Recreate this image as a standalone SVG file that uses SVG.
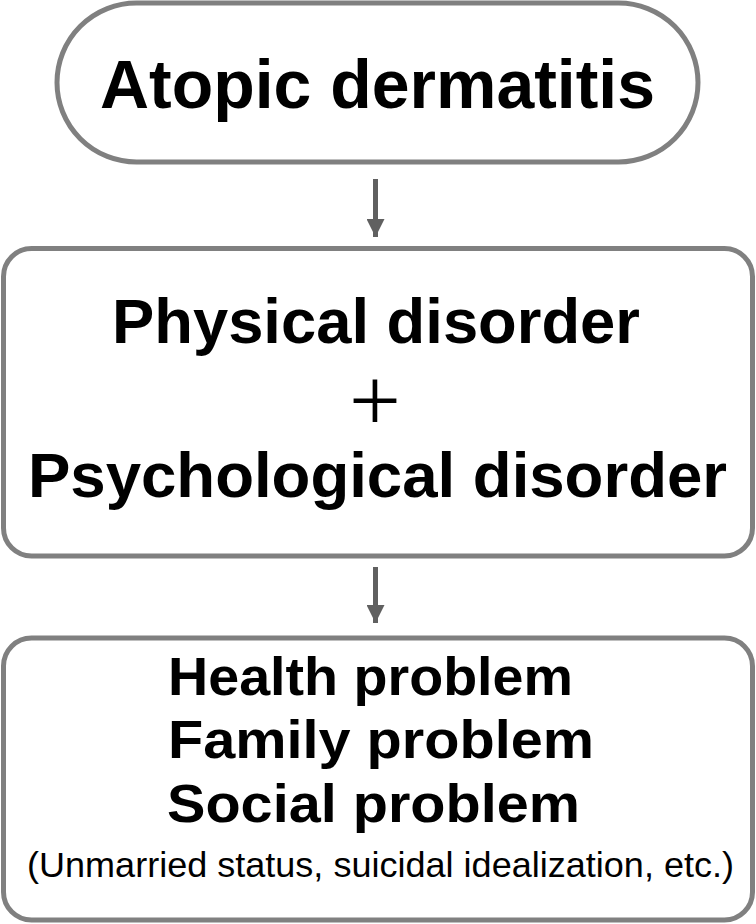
<svg xmlns="http://www.w3.org/2000/svg" width="756" height="924" viewBox="0 0 756 924">
<style>
.box{fill:#fff;stroke:#808080;stroke-width:5}
.conn{stroke:#606060;stroke-width:5;fill:none}
.b{font-family:"Liberation Sans",Arial,sans-serif;font-weight:bold;fill:#000}
.r{font-family:"Liberation Sans",Arial,sans-serif;font-weight:normal;fill:#000}
</style>
<defs>
<marker id="ah" viewBox="0 0 18 18" refX="18" refY="9" markerWidth="18" markerHeight="18" markerUnits="userSpaceOnUse" orient="auto">
<path d="M0,0 L18,9 L0,18 Z" fill="#606060"/>
</marker>
</defs>
<rect width="756" height="924" fill="#fff"/>
<g id="connectors">
<line class="conn" x1="375.5" y1="179" x2="375.5" y2="237" marker-end="url(#ah)"/>
<line class="conn" x1="375.5" y1="567" x2="375.5" y2="623" marker-end="url(#ah)"/>
</g>
<g id="node-atopic">
<rect class="box" x="57" y="3" width="641" height="159" rx="79.5" ry="79.5"/>
<text class="b" x="377.5" y="108" font-size="68" text-anchor="middle" textLength="555" lengthAdjust="spacingAndGlyphs">Atopic dermatitis</text>
</g>
<g id="node-disorder">
<rect class="box" x="3.5" y="248.5" width="749" height="307.5" rx="28" ry="28"/>
<text class="b" x="376" y="343" font-size="63" text-anchor="middle" textLength="528" lengthAdjust="spacingAndGlyphs">Physical disorder</text>
<text x="375" y="431" font-family="Liberation Serif,serif" font-size="92" text-anchor="middle" fill="#000">+</text>
<text class="b" x="377.5" y="497" font-size="63" text-anchor="middle" textLength="699" lengthAdjust="spacingAndGlyphs">Psychological disorder</text>
</g>
<g id="node-problems">
<rect class="box" x="3.5" y="638" width="749" height="282" rx="28" ry="28"/>
<text class="b" x="168" y="695" font-size="54" textLength="405" lengthAdjust="spacingAndGlyphs">Health problem</text>
<text class="b" x="168" y="758" font-size="54" textLength="426" lengthAdjust="spacingAndGlyphs">Family problem</text>
<text class="b" x="167" y="822" font-size="54" textLength="413" lengthAdjust="spacingAndGlyphs">Social problem</text>
<text class="r" x="27" y="877" font-size="35" textLength="707" lengthAdjust="spacingAndGlyphs">(Unmarried status, suicidal idealization, etc.)</text>
</g>
</svg>
